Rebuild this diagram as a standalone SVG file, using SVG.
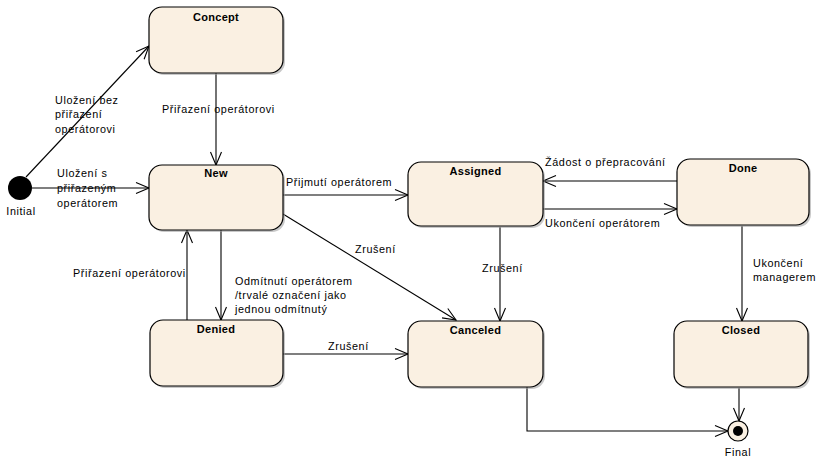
<svg xmlns="http://www.w3.org/2000/svg" width="819" height="458" viewBox="0 0 819 458">
<style>
.node rect.b{fill:#FAF0E2;stroke:#000;stroke-width:1.2}
.node rect.s{fill:#9a9a9a;opacity:0.55}
.t{font-family:"Liberation Sans",Arial,sans-serif;font-size:11px;font-weight:bold;text-anchor:middle;letter-spacing:0.3px;fill:#000}
.l{font-family:"Liberation Sans",Arial,sans-serif;font-size:10.8px;letter-spacing:0.6px;fill:#000}
#connectors path{fill:none;stroke:#000;stroke-width:1.1;marker-end:url(#arr)}
</style>
<defs>
<marker id="arr" markerUnits="userSpaceOnUse" markerWidth="16" markerHeight="14" refX="14" refY="7" orient="auto" viewBox="0 0 16 14">
<path d="M1,1.5 L14,7 L1,12.5" fill="none" stroke="#000" stroke-width="1.1"/>
</marker>
</defs>
<rect width="819" height="458" fill="#fff"/>
<g id="connectors">
<path d="M26,177 L149,46"/>
<path d="M216,73 L216,165"/>
<path d="M32,188 L149,188"/>
<path d="M283,195 L408,195"/>
<path d="M283,214 L456,320"/>
<path d="M500,227 L500,321"/>
<path d="M677,181 L543,181"/>
<path d="M543,209 L677,209"/>
<path d="M742,226 L742,321"/>
<path d="M221,230 L221,320"/>
<path d="M187,320 L187,230"/>
<path d="M283,354 L408,354"/>
<path d="M527,387 L527,431 L728,431"/>
<path d="M739,388 L739,421"/>
</g>
<g id="initial">
<circle cx="20" cy="188" r="12" fill="#000"/>
<text class="l" x="21" y="215" text-anchor="middle">Initial</text>
</g>
<g id="final">
<circle cx="738" cy="431" r="10" fill="#FAF0E2" stroke="#000" stroke-width="1.2"/>
<circle cx="738" cy="431" r="5" fill="#000"/>
<text class="l" x="738" y="456" text-anchor="middle">Final</text>
</g>
<g id="concept" class="node">
<rect class="s" x="151" y="9" width="134" height="66" rx="13"/>
<rect class="b" x="149" y="7" width="134" height="66" rx="13"/>
<text class="t" x="216" y="21">Concept</text>
</g>
<g id="new" class="node">
<rect class="s" x="151" y="167" width="134" height="65" rx="13"/>
<rect class="b" x="149" y="165" width="134" height="65" rx="13"/>
<text class="t" x="216" y="177">New</text>
</g>
<g id="assigned" class="node">
<rect class="s" x="410" y="164" width="135" height="64" rx="13"/>
<rect class="b" x="408" y="162" width="135" height="64" rx="13"/>
<text class="t" x="475.5" y="175">Assigned</text>
</g>
<g id="done" class="node">
<rect class="s" x="679" y="161" width="132" height="66" rx="13"/>
<rect class="b" x="677" y="159" width="132" height="66" rx="13"/>
<text class="t" x="743" y="172">Done</text>
</g>
<g id="denied" class="node">
<rect class="s" x="152" y="322" width="133" height="66" rx="13"/>
<rect class="b" x="150" y="320" width="133" height="66" rx="13"/>
<text class="t" x="216" y="333">Denied</text>
</g>
<g id="canceled" class="node">
<rect class="s" x="410" y="323" width="135" height="66" rx="13"/>
<rect class="b" x="408" y="321" width="135" height="66" rx="13"/>
<text class="t" x="475.5" y="334">Canceled</text>
</g>
<g id="closed" class="node">
<rect class="s" x="676" y="323" width="134" height="66" rx="13"/>
<rect class="b" x="674" y="321" width="134" height="66" rx="13"/>
<text class="t" x="741" y="334">Closed</text>
</g>
<g id="labels">
<text class="l" x="55" y="104">Uložení bez</text>
<text class="l" x="55" y="118">přiřazení</text>
<text class="l" x="55" y="133">operátorovi</text>
<text class="l" x="162" y="113">Přiřazení operátorovi</text>
<text class="l" x="57" y="177">Uložení s</text>
<text class="l" x="57" y="191.5">přiřazeným</text>
<text class="l" x="57" y="206.5">operátorem</text>
<text class="l" x="286" y="185.5">Přijmutí operátorem</text>
<text class="l" x="355" y="252.5">Zrušení</text>
<text class="l" x="482" y="271.5">Zrušení</text>
<text class="l" x="545" y="166">Žádost o přepracování</text>
<text class="l" x="545" y="226.5">Ukončení operátorem</text>
<text class="l" x="753" y="266.5">Ukončení</text>
<text class="l" x="753" y="280.5">managerem</text>
<text class="l" x="73" y="276.5">Přiřazení operátorovi</text>
<text class="l" x="235" y="284.5">Odmítnutí operátorem</text>
<text class="l" x="235" y="298.5">/trvalé označení jako</text>
<text class="l" x="235" y="312.5">jednou odmítnutý</text>
<text class="l" x="328" y="349.5">Zrušení</text>
</g>
</svg>
